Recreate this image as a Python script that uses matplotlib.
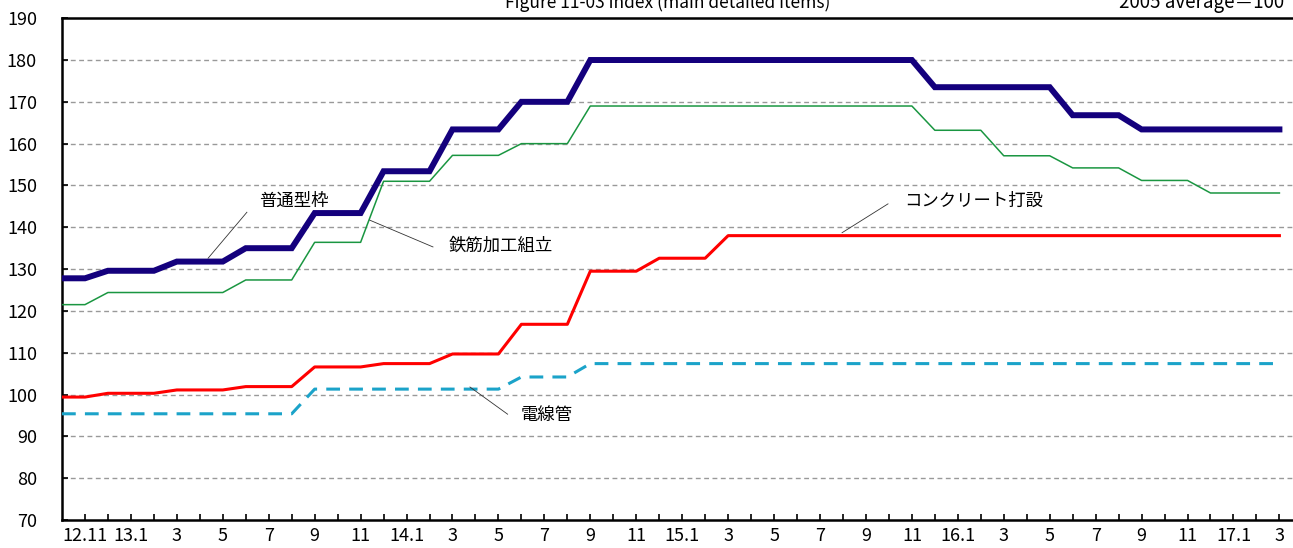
import matplotlib
matplotlib.use("Agg")
import matplotlib.pyplot as plt
import numpy as np

plt.rcParams['font.family'] = ['Noto Sans CJK JP', 'DejaVu Sans']

# months from 12.10 (index 0) to 17.3 (index 53)
x_label_pos = list(range(1, 54, 2))
x_labels = ["12.11", "13.1", "3", "5", "7", "9", "11", "14.1", "3", "5", "7", "9", "11",
            "15.1", "3", "5", "7", "9", "11", "16.1", "3", "5", "7", "9", "11", "17.1", "3"]

futsu_katawaku = [127.8, 127.8, 129.6, 129.6, 129.6, 131.8, 131.8, 131.8, 135.0, 135.0,
                  135.0, 143.4, 143.4, 143.4, 153.4, 153.4, 153.4, 163.4, 163.4, 163.4,
                  170.0, 170.0, 170.0, 180.0, 180.0, 180.0, 180.0, 180.0, 180.0, 180.0,
                  180.0, 180.0, 180.0, 180.0, 180.0, 180.0, 180.0, 180.0, 173.5, 173.5,
                  173.5, 173.5, 173.5, 173.5, 166.8, 166.8, 166.8, 163.4, 163.4, 163.4,
                  163.4, 163.4, 163.4, 163.4]
tekkin = [121.5, 121.5, 124.4, 124.4, 124.4, 124.4, 124.4, 124.4, 127.4, 127.4,
          127.4, 136.4, 136.4, 136.4, 151.0, 151.0, 151.0, 157.2, 157.2, 157.2,
          160.0, 160.0, 160.0, 169.0, 169.0, 169.0, 169.0, 169.0, 169.0, 169.0,
          169.0, 169.0, 169.0, 169.0, 169.0, 169.0, 169.0, 169.0, 163.2, 163.2,
          163.2, 157.1, 157.1, 157.1, 154.2, 154.2, 154.2, 151.2, 151.2, 151.2,
          148.2, 148.2, 148.2, 148.2]
concrete = [99.4, 99.4, 100.3, 100.3, 100.3, 101.1, 101.1, 101.1, 101.9, 101.9,
            101.9, 106.6, 106.6, 106.6, 107.4, 107.4, 107.4, 109.7, 109.7, 109.7,
            116.8, 116.8, 116.8, 129.5, 129.5, 129.5, 132.6, 132.6, 132.6, 138.0,
            138.0, 138.0, 138.0, 138.0, 138.0, 138.0, 138.0, 138.0, 138.0, 138.0,
            138.0, 138.0, 138.0, 138.0, 138.0, 138.0, 138.0, 138.0, 138.0, 138.0,
            138.0, 138.0, 138.0, 138.0]
densenkan = [95.4, 95.4, 95.4, 95.4, 95.4, 95.4, 95.4, 95.4, 95.4, 95.4,
             95.4, 101.3, 101.3, 101.3, 101.3, 101.3, 101.3, 101.3, 101.3, 101.3,
             104.2, 104.2, 104.2, 107.4, 107.4, 107.4, 107.4, 107.4, 107.4, 107.4,
             107.4, 107.4, 107.4, 107.4, 107.4, 107.4, 107.4, 107.4, 107.4, 107.4,
             107.4, 107.4, 107.4, 107.4, 107.4, 107.4, 107.4, 107.4, 107.4, 107.4,
             107.4, 107.4, 107.4, 107.4]

x = np.arange(len(futsu_katawaku))

fig = plt.figure(figsize=(12.93, 5.48), dpi=100)
ax = fig.add_axes([62 / 1293, 28 / 548, 0.9593, 0.9157])

for v in range(80, 190, 10):
    ax.axhline(v, color='#999999', lw=1.0, ls=(0, (3.5, 2.5)), zorder=1)

ax.plot(x, densenkan, color='#1ba3c9', lw=2.2, ls=(0, (4.5, 3)), zorder=3)
ax.plot(x, concrete, color='#ff0000', lw=2.2, zorder=3)
ax.plot(x, tekkin, color='#1a9641', lw=1.1, zorder=3)
ax.plot(x, futsu_katawaku, color='#14007d', lw=4.3, zorder=4, solid_joinstyle='miter')

# leader lines + labels
ax.plot([6.36, 8.05], [132.6, 143.6], color='#333333', lw=0.6, zorder=5)
ax.text(10.1, 146.4, '普通型枠', ha='center', va='center', fontsize=12.5)
ax.plot([13.4, 16.15], [141.7, 135.3], color='#333333', lw=0.6, zorder=5)
ax.text(19.1, 135.5, '鉄筋加工組立', ha='center', va='center', fontsize=12.5)
ax.plot([17.76, 19.4], [101.8, 95.3], color='#333333', lw=0.6, zorder=5)
ax.text(21.1, 95.1, '電線管', ha='center', va='center', fontsize=12.5)
ax.plot([33.96, 35.96], [138.7, 145.6], color='#333333', lw=0.6, zorder=5)
ax.text(39.7, 146.4, 'コンクリート打設', ha='center', va='center', fontsize=12.5)

ax.set_xlim(0, 54)
ax.set_ylim(70, 190)
ax.set_yticks(range(70, 200, 10))
ax.set_xticks(x_label_pos)
ax.set_xticklabels(x_labels)
ax.set_xticks(range(1, 54), minor=True)
ax.tick_params(axis='x', which='both', direction='in', length=4, width=1.2, pad=5, labelsize=13)
ax.tick_params(axis='y', direction='in', length=4, width=1.2, pad=18, labelsize=13)

for s in ['left', 'bottom', 'top']:
    ax.spines[s].set_linewidth(1.8)
ax.spines['right'].set_visible(False)

fig.text(668 / 1293, 1 - 8 / 548, 'Figure 11-03 index (main detailed items)',
         ha='center', va='baseline', fontsize=12.5)
fig.text(1284 / 1293, 1 - 8 / 548, '2005 average＝100',
         ha='right', va='baseline', fontsize=13.5)

fig.savefig('out.png', dpi=100)
